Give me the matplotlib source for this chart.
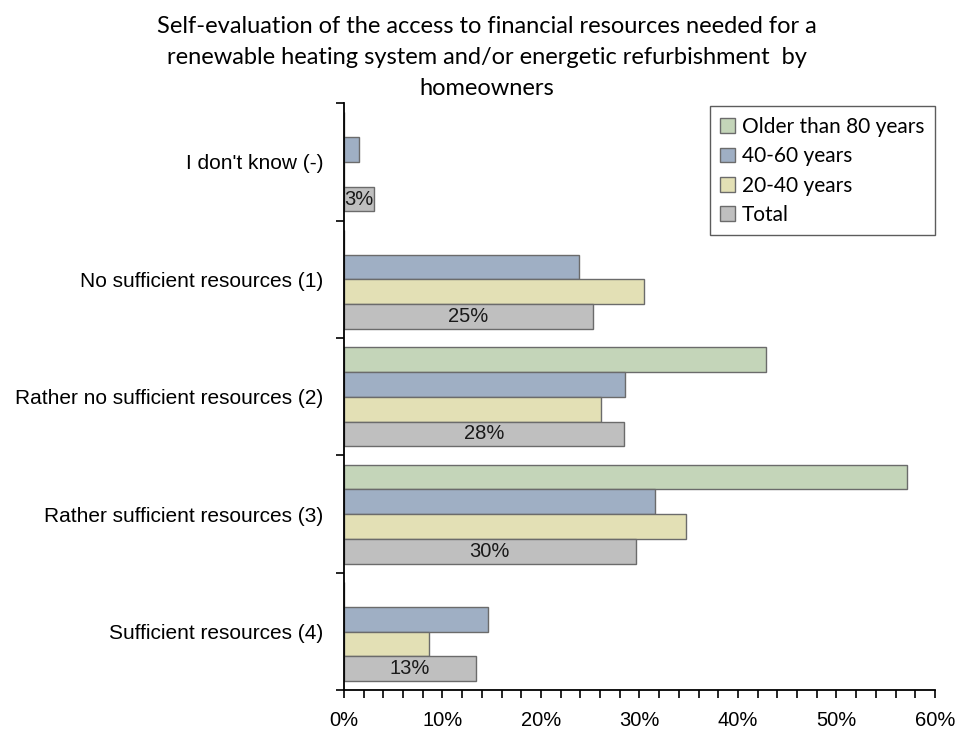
import matplotlib
matplotlib.use("Agg")
import matplotlib.pyplot as plt
import matplotlib.ticker as mticker
import numpy as np

plt.rcParams['font.family'] = ['Liberation Sans', 'DejaVu Sans']

# survey answers, top to bottom
categories = [
    "I don't know (-)",
    "No sufficient resources (1)",
    "Rather no sufficient resources (2)",
    "Rather sufficient resources (3)",
    "Sufficient resources (4)",
]
series_names = ["Older than 80 years", "40-60 years", "20-40 years", "Total"]

# shares in percent per answer
older_80 = [0.0, 0.0, 42.8, 57.2, 0.0]
age_40_60 = [1.5, 23.9, 28.5, 31.6, 14.6]
age_20_40 = [0.0, 30.5, 26.1, 34.7, 8.6]
total = [3.1, 25.3, 28.4, 29.6, 13.4]

colors = ["#c4d5b9", "#9fafc4", "#e3e0b5", "#bfbfbf"]

fig = plt.figure(figsize=(9.58, 7.32), dpi=100)
ax = fig.add_axes([0.359, 0.057, 0.617, 0.802])

n = len(categories)
y = np.arange(n)
h = 0.211
offsets = [-1.5 * h, -0.5 * h, 0.5 * h, 1.5 * h]

bars = []
for vals, off, col, name in zip([older_80, age_40_60, age_20_40, total],
                                offsets, colors, series_names):
    b = ax.barh(y + off, vals, height=h, color=col, edgecolor="#6b6b6b",
                linewidth=1.0, label=name)
    bars.append(b)

ax.bar_label(bars[-1], labels=[f"{v:.0f}%" for v in total],
             label_type="center", fontsize=14.5, color="#1a1a1a")

ax.set_ylim(n - 0.5, -0.5)
ax.set_xlim(0, 60)

# category labels centred, tick marks only at group boundaries
ax.set_yticks(y)
ax.set_yticklabels(categories, fontsize=15)
ax.tick_params(axis="y", which="major", length=0, pad=15)
ax.set_yticks(np.arange(-0.5, n, 1.0), minor=True)
ax.tick_params(axis="y", which="minor", length=6, width=1.2, direction="out")

ax.xaxis.set_major_locator(mticker.MultipleLocator(10))
ax.xaxis.set_minor_locator(mticker.MultipleLocator(2))
ax.xaxis.set_major_formatter(mticker.FuncFormatter(lambda v, p: f"{v:.0f}%"))
ax.tick_params(axis="x", which="both", length=6, width=1.2, direction="out",
               labelsize=14.5, pad=9)

for side in ["top", "right"]:
    ax.spines[side].set_visible(False)
for side in ["left", "bottom"]:
    ax.spines[side].set_linewidth(1.3)
    ax.spines[side].set_color("black")

ax.set_title("Self-evaluation of the access to financial resources needed for a\n"
             "renewable heating system and/or energetic refurbishment  by\n"
             "homeowners", fontsize=17, family=["Lato", "DejaVu Sans"],
             linespacing=1.58, x=0.242, pad=6)

leg = ax.legend(loc="upper right", bbox_to_anchor=(1.005, 1.0),
                prop={"family": ["Lato", "DejaVu Sans"], "size": 15},
                frameon=True, fancybox=False, edgecolor="#333333",
                handlelength=0.7, handleheight=0.7, handletextpad=0.35,
                labelspacing=0.45, borderpad=0.5, borderaxespad=0.15)
leg.get_frame().set_linewidth(1.0)

fig.savefig("out.png", dpi=100)
